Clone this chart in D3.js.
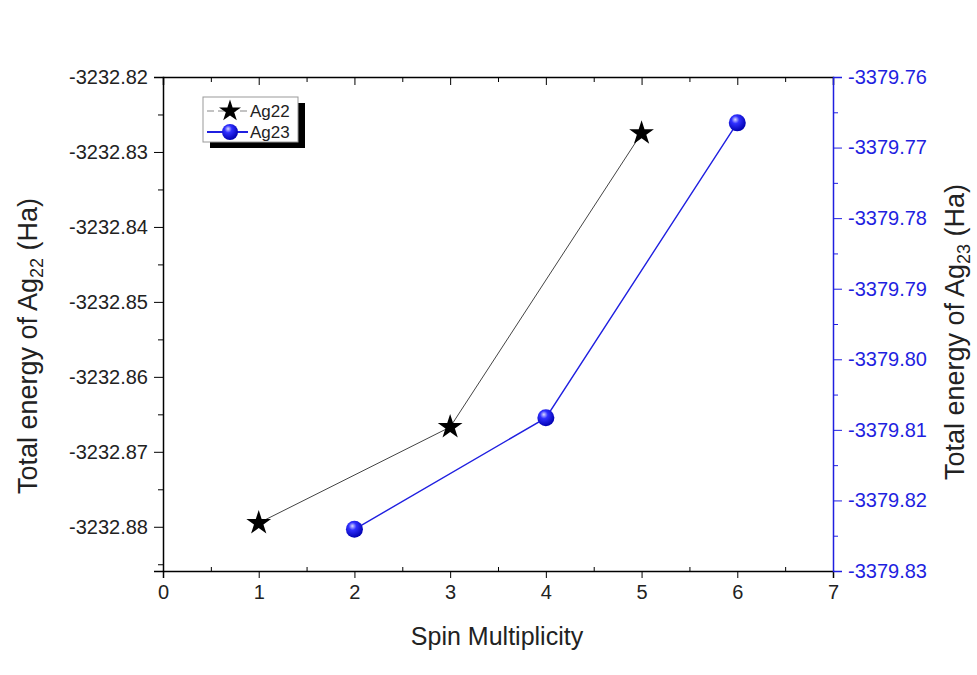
<!DOCTYPE html>
<html>
<head>
<meta charset="utf-8">
<script src="https://cdn.jsdelivr.net/npm/d3@7"></script>
<style>
  body { margin: 0; background: #fff; }
  svg { font-family: "Liberation Sans", Arial, sans-serif; }
</style>
</head>
<body>
<div id="chart"></div>
<script>
// data
const spinAg22 = [1, 3, 5];
const energyAg22 = [-3232.8795, -3232.8667, -3232.8275];
const spinAg23 = [2, 4, 6];
const energyAg23 = [-3379.8241, -3379.8083, -3379.7665];
const xTicks = [0, 1, 2, 3, 4, 5, 6, 7];
const leftTicks = [-3232.82, -3232.83, -3232.84, -3232.85, -3232.86, -3232.87, -3232.88];
const rightTicks = [-3379.76, -3379.77, -3379.78, -3379.79, -3379.80, -3379.81, -3379.82, -3379.83];

const width = 977, height = 675;
const plotL = 163, plotR = 833, plotT = 77, plotB = 571;
const blue = "#1f1fe0";

const svg = d3.select("#chart").append("svg")
    .attr("width", width).attr("height", height);

// scales
const x = d3.scaleLinear().domain([0, 7]).range([plotL, plotR]);
const yL = d3.scaleLinear().domain([-3232.8859, -3232.82]).range([plotB, plotT]);
const yR = d3.scaleLinear().domain([-3379.83, -3379.76]).range([plotB, plotT]);

// plain hyphen, as in the original
const fmt = d => d.toFixed(2);

// bottom axis
const xAxis = svg.append("g")
    .attr("transform", `translate(0,${plotB})`)
    .call(d3.axisBottom(x).tickValues(xTicks).tickFormat(d3.format("d")).tickSize(7).tickPadding(7));
xAxis.selectAll("text").style("font-size", "20px").attr("fill", "#222");
svg.append("g")
    .attr("transform", `translate(0,${plotB})`)
    .call(d3.axisBottom(x).tickValues(d3.range(0.5, 7, 1)).tickFormat("").tickSize(-4))
    .call(g => g.select(".domain").remove());

// top axis (inward ticks)
svg.append("g")
    .attr("transform", `translate(0,${plotT})`)
    .call(d3.axisTop(x).tickValues(xTicks).tickFormat("").tickSize(-8))
    .call(g => g.select(".domain").attr("stroke-width", 1.5));
svg.append("g")
    .attr("transform", `translate(0,${plotT})`)
    .call(d3.axisTop(x).tickValues(d3.range(0.5, 7, 1)).tickFormat("").tickSize(-5))
    .call(g => g.select(".domain").remove());

// left axis
const lAxis = svg.append("g")
    .attr("transform", `translate(${plotL},0)`)
    .call(d3.axisLeft(yL).tickValues(leftTicks).tickFormat(fmt).tickSize(9).tickPadding(6));
lAxis.selectAll("text").style("font-size", "20px").attr("fill", "#222");
svg.append("g")
    .attr("transform", `translate(${plotL},0)`)
    .call(d3.axisLeft(yL).tickValues(d3.range(-3232.825, -3232.887, -0.01)).tickFormat("").tickSize(5))
    .call(g => g.select(".domain").remove());

// right axis (blue)
const rAxis = svg.append("g")
    .attr("transform", `translate(${plotR},0)`)
    .call(d3.axisRight(yR).tickValues(rightTicks).tickFormat(fmt).tickSize(9).tickPadding(6));
rAxis.selectAll("text").style("font-size", "20px").attr("fill", blue);
rAxis.selectAll("line").attr("stroke", blue);
rAxis.select(".domain").attr("stroke", blue).attr("stroke-width", 1.5);
svg.append("g")
    .attr("transform", `translate(${plotR},0)`)
    .call(d3.axisRight(yR).tickValues(d3.range(-3379.765, -3379.83, -0.01)).tickFormat("").tickSize(5))
    .call(g => { g.select(".domain").remove(); g.selectAll("line").attr("stroke", blue); });

xAxis.select(".domain").attr("stroke-width", 1.5);
lAxis.select(".domain").attr("stroke-width", 1.5);

// axis titles
svg.append("text")
    .attr("x", 497).attr("y", 645)
    .attr("text-anchor", "middle").style("font-size", "25px").attr("fill", "#222")
    .text("Spin Multiplicity");

function title(g, sub) {
    g.append("tspan").text("Total energy of Ag");
    g.append("tspan").text(sub).attr("dy", 6).style("font-size", "18px");
    g.append("tspan").text(" (Ha)").attr("dy", -6);
}
svg.append("text")
    .attr("transform", "translate(37,346) rotate(-90)")
    .attr("text-anchor", "middle").style("font-size", "27px").attr("fill", "#222")
    .call(title, "22");
svg.append("text")
    .attr("transform", "translate(964,332) rotate(-90)")
    .attr("text-anchor", "middle").style("font-size", "27px").attr("fill", "#222")
    .call(title, "23");

// sphere gradient
const defs = svg.append("defs");
const grad = defs.append("radialGradient").attr("id", "ball")
    .attr("cx", "40%").attr("cy", "35%").attr("r", "65%").attr("fx", "38%").attr("fy", "30%");
grad.append("stop").attr("offset", "0%").attr("stop-color", "#d8d8ff");
grad.append("stop").attr("offset", "35%").attr("stop-color", "#3030ff");
grad.append("stop").attr("offset", "100%").attr("stop-color", "#0000b0");

const star = d3.symbol().type(d3.symbolStar).size(190);

const ag22 = spinAg22.map((s, i) => [s, energyAg22[i]]);
const ag23 = spinAg23.map((s, i) => [s, energyAg23[i]]);

// lines
svg.append("path")
    .attr("d", d3.line().x(d => x(d[0])).y(d => yL(d[1]))(ag22))
    .attr("fill", "none").attr("stroke", "#444").attr("stroke-width", 1);
svg.append("path")
    .attr("d", d3.line().x(d => x(d[0])).y(d => yR(d[1]))(ag23))
    .attr("fill", "none").attr("stroke", blue).attr("stroke-width", 1.4);

// markers
svg.selectAll("path.star").data(ag22).join("path")
    .attr("class", "star")
    .attr("d", star)
    .attr("transform", d => `translate(${x(d[0])},${yL(d[1])})`)
    .attr("fill", "#000");
svg.selectAll("circle.ball").data(ag23).join("circle")
    .attr("class", "ball")
    .attr("cx", d => x(d[0])).attr("cy", d => yR(d[1])).attr("r", 8.5)
    .attr("fill", "url(#ball)");

// legend
const lg = svg.append("g").attr("transform", "translate(203,97)");
lg.append("rect").attr("x", 7).attr("y", 6).attr("width", 95).attr("height", 45).attr("fill", "#000");
lg.append("rect").attr("width", 95).attr("height", 45).attr("fill", "#fff")
    .attr("stroke", "#999").attr("stroke-width", 1);
lg.append("line").attr("x1", 4).attr("x2", 45).attr("y1", 14).attr("y2", 14)
    .attr("stroke", "#888").attr("stroke-width", 1.2).attr("stroke-dasharray", "7,4");
lg.append("path").attr("d", d3.symbol().type(d3.symbolStar).size(150))
    .attr("transform", "translate(27,14)").attr("fill", "#000");
lg.append("line").attr("x1", 4).attr("x2", 45).attr("y1", 35).attr("y2", 35)
    .attr("stroke", blue).attr("stroke-width", 2);
lg.append("circle").attr("cx", 27).attr("cy", 35).attr("r", 8).attr("fill", "url(#ball)");
lg.append("text").attr("x", 47).attr("y", 20).style("font-size", "17px").attr("fill", "#222").text("Ag22");
lg.append("text").attr("x", 47).attr("y", 41).style("font-size", "17px").attr("fill", "#222").text("Ag23");
</script>
</body>
</html>
